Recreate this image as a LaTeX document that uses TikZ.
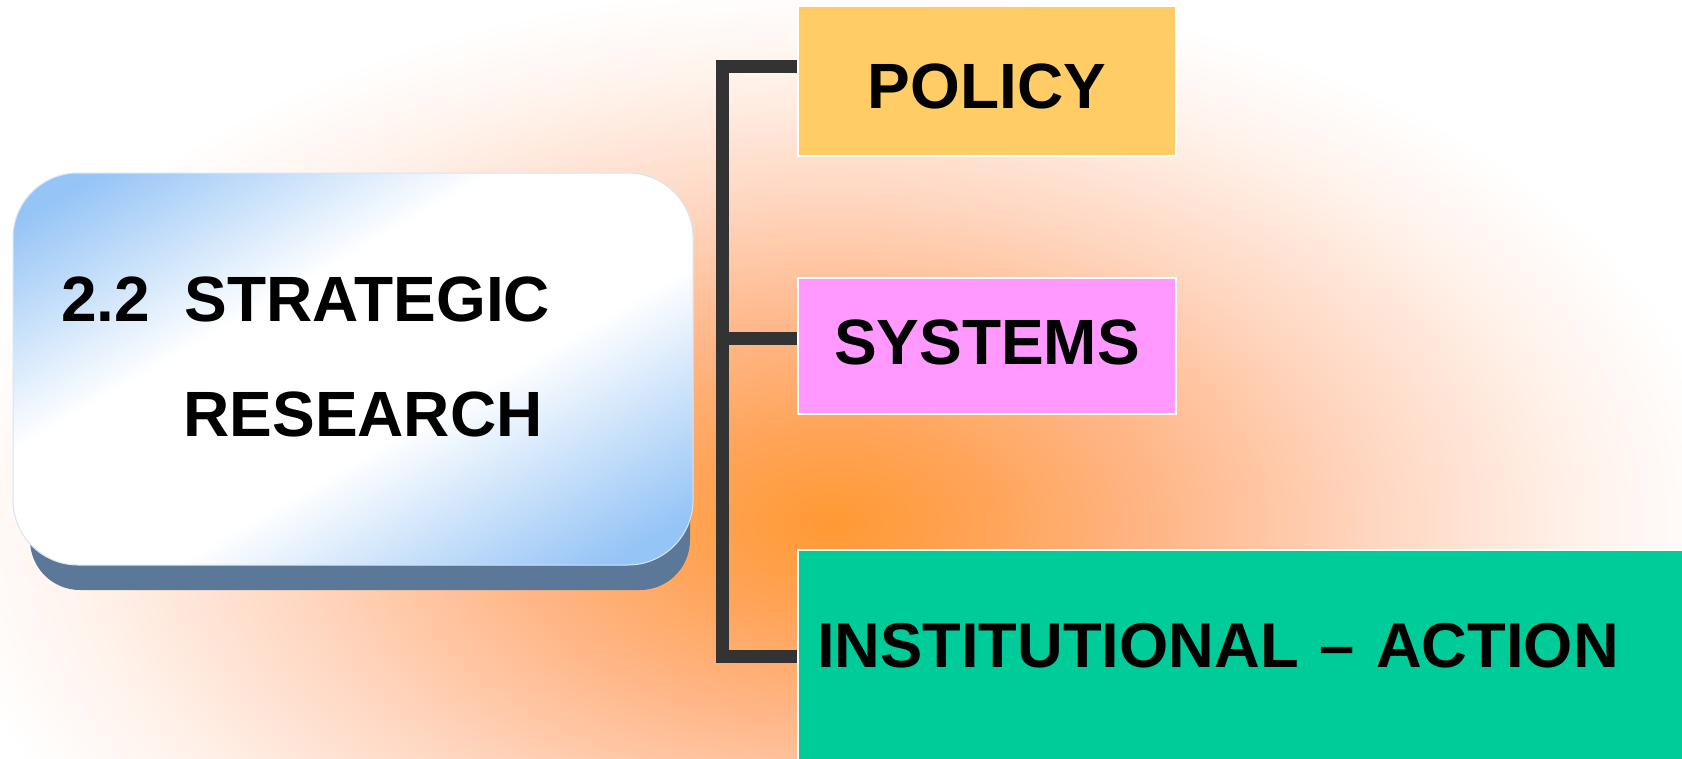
\documentclass[tikz,border=0pt]{standalone}
\usepackage{fontspec}
\setmainfont{Liberation Sans}
\usetikzlibrary{positioning}

\definecolor{glowA}{RGB}{255,153,51}
\definecolor{glowB}{RGB}{255,163,85}
\definecolor{glowC}{RGB}{255,182,135}
\definecolor{glowD}{RGB}{255,214,192}
\definecolor{glowE}{RGB}{255,243,236}
\definecolor{boxblue}{RGB}{149,196,246}
\definecolor{boxedge}{RGB}{215,228,242}
\definecolor{shadowblue}{RGB}{91,120,152}
\definecolor{policyyellow}{RGB}{255,204,102}
\definecolor{systemspink}{RGB}{255,153,255}
\definecolor{actiongreen}{RGB}{0,204,153}
\definecolor{bracketgrey}{RGB}{51,51,51}

\pgfdeclareradialshading{glow}{\pgfpoint{0bp}{0bp}}{color(0bp)=(glowA); color(4bp)=(glowB); color(9bp)=(glowC); color(15bp)=(glowD); color(21bp)=(glowE); color(25bp)=(white); color(50bp)=(white)}
\pgfdeclareverticalshading{boxfade}{100bp}{color(0bp)=(boxblue); color(20bp)=(boxblue); color(42bp)=(white); color(60bp)=(white); color(80bp)=(boxblue); color(100bp)=(boxblue)}

\begin{document}
\begin{tikzpicture}[x=1pt, y=-1pt,
        boxtext/.style={font=\bfseries\fontsize{64pt}{70pt}\selectfont},
        branch/.style={boxtext, draw=white, line width=2pt, inner sep=0pt},
        bracket/.style={draw=bracketgrey, line width=12.5pt, line join=miter}]
        \useasboundingbox (0,0) rectangle (1682,758);
        \fill[white] (0,0) rectangle (1682,758);
        \begin{scope}
                \clip (0,0) rectangle (1682,758);
                \shade[shading=glow] (833,523) ellipse [x radius=900, y radius=540];
        \end{scope}

        \fill[shadowblue, rounded corners=50pt] (30,200) rectangle (690,590);
        \node[draw=boxedge, line width=1pt, rounded corners=65pt,
                shading=boxfade, shading angle=30,
                minimum width=680pt, minimum height=392pt, inner sep=0pt,
                text height=45.8pt, text depth=140.8pt,
                font=\bfseries\fontsize{64pt}{115pt}\selectfont] (research) at (353,369)
                {\parbox[t]{584pt}{\raggedright\makebox[124pt][l]{2.2}STRATEGIC\\\hspace*{122.5pt}RESEARCH}};

        \node[branch, fill=policyyellow, minimum width=378pt, minimum height=150pt,
                text height=54pt, text depth=0pt] (policy) at (987,81) {POLICY};
        \node[branch, fill=systemspink, minimum width=378pt, minimum height=136pt,
                text height=46pt, text depth=9pt] (systems) at (987,346) {SYSTEMS};
        \node[branch, fill=actiongreen, minimum width=902pt, minimum height=225pt,
                text width=864pt, align=left, text height=46pt, text depth=36pt,
                font=\bfseries\fontsize{63.3pt}{70pt}\selectfont] (action) at (1249,662.5)
                {INSTITUTIONAL – ACTION};

        \coordinate (spine) at (722.5,0);
        \coordinate (policyend) at ([yshift=14.5pt]policy.west);
        \coordinate (systemsend) at ([yshift=7.5pt]systems.west);
        \coordinate (actionend) at ([yshift=6pt]action.west);
        \draw[bracket] (policyend) -| (spine |- actionend) -- (actionend);
        \draw[bracket] (systemsend) -- (systemsend -| spine);
\end{tikzpicture}
\end{document}
